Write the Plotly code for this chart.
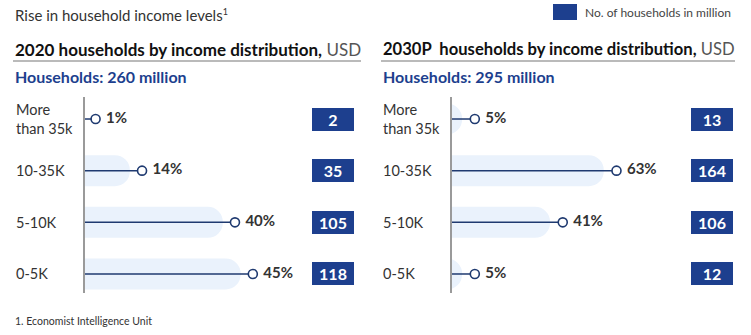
import plotly.graph_objects as go

W, H = 751, 335

categories = ["More<br>than 35k", "10-35K", "5-10K", "0-5K"]
share_2020 = [1, 14, 40, 45]
share_2030 = [5, 63, 41, 5]
households_2020 = [2, 35, 105, 118]
households_2030 = [13, 164, 106, 12]

title_main = "Rise in household income levels<sup><span style='font-size:9px'>1</span></sup>"
title_2020 = "<b>2020 households by income distribution,</b> <span style='color:#555'>USD</span>"
title_2030 = "<b>2030P  households by income distribution,</b> <span style='color:#555'>USD</span>"
sub_2020 = "<b>Households: 260 million</b>"
sub_2030 = "<b>Households: 295 million</b>"
legend_text = "No. of households in million"
footnote = "1. Economist Intelligence Unit"

NAVY = "#1D3F8E"
DARK = "#1F3A70"
BG = "#EAF2FC"
TXT = "#333333"
FONT = "Lato"


def px(x):
    return x / W


def py(y):
    return 1 - y / H


fig = go.Figure()

panels = [
    dict(shares=share_2020, hh=households_2020, xa="x", ya="y",
         xrange=[-1.96, 58.2], gap=3.4, box_x=332.5, lab_x=14),
    dict(shares=share_2030, hh=households_2030, xa="x2", ya="y2",
         xrange=[-4.34, 89.0], gap=5.2, box_x=711.5, lab_x=381),
]

annotations = []
for p in panels:
    s = p["shares"]
    x_min = p["xrange"][0]
    bg_end = [v - p["gap"] for v in s]
    # light background rounded bars (start left of the axis so left corners are clipped)
    fig.add_trace(go.Bar(
        y=categories, x=[max(e - (x_min - 10), 0) if e > x_min else 0 for e in bg_end],
        base=x_min - 10, orientation="h",
        marker=dict(color=BG, cornerradius=15, line=dict(width=0)),
        width=0.6, xaxis=p["xa"], yaxis=p["ya"], showlegend=False, hoverinfo="skip"))
    # stems from the axis to the value
    lx, ly = [], []
    for c, v in zip(categories, s):
        lx += [x_min, v, None]
        ly += [c, c, None]
    fig.add_trace(go.Scatter(x=lx, y=ly, mode="lines", line=dict(color=DARK, width=1.5),
                             xaxis=p["xa"], yaxis=p["ya"], showlegend=False, hoverinfo="skip"))
    # markers + labels
    fig.add_trace(go.Scatter(
        x=s, y=categories, mode="markers+text",
        marker=dict(symbol="circle", size=9, color="white", line=dict(color=DARK, width=1.6)),
        text=[f"\u00a0<b>{v}%</b>" for v in s], textposition="middle right",
        textfont=dict(family=FONT, size=15, color=TXT),
        xaxis=p["xa"], yaxis=p["ya"], showlegend=False, cliponaxis=False, hoverinfo="skip"))
    # boxes with household counts
    for c, n in zip(categories, p["hh"]):
        annotations.append(dict(
            xref="paper", yref=p["ya"], x=px(p["box_x"]), y=c, text=f"<b>{n}</b>",
            showarrow=False, font=dict(family=FONT, size=16, color="white"),
            bgcolor=NAVY, bordercolor=NAVY, borderwidth=1, borderpad=0,
            width=40, height=21, xanchor="center", yanchor="middle"))
    # category labels
    for c in categories:
        annotations.append(dict(
            xref="paper", yref=p["ya"], x=px(p["lab_x"]), y=c, text=c, showarrow=False,
            font=dict(family=FONT, size=14.5, color=TXT), xanchor="left", yanchor="middle",
            align="left"))

# titles
annotations += [
    dict(xref="paper", yref="paper", x=px(13), y=py(15), text=title_main, showarrow=False,
         xanchor="left", yanchor="middle", font=dict(family=FONT, size=15, color=TXT)),
    dict(xref="paper", yref="paper", x=px(13), y=py(49), text=title_2020, showarrow=False,
         xanchor="left", yanchor="middle", font=dict(family=FONT, size=17, color="#111")),
    dict(xref="paper", yref="paper", x=px(381), y=py(49), text=title_2030, showarrow=False,
         xanchor="left", yanchor="middle", font=dict(family=FONT, size=16.6, color="#111")),
    dict(xref="paper", yref="paper", x=px(13), y=py(76), text=sub_2020, showarrow=False,
         xanchor="left", yanchor="middle", font=dict(family=FONT, size=16, color=NAVY)),
    dict(xref="paper", yref="paper", x=px(381), y=py(76), text=sub_2030, showarrow=False,
         xanchor="left", yanchor="middle", font=dict(family=FONT, size=16, color=NAVY)),
    dict(xref="paper", yref="paper", x=px(583), y=py(12), text=legend_text, showarrow=False,
         xanchor="left", yanchor="middle", font=dict(family=FONT, size=12, color="#444")),
    dict(xref="paper", yref="paper", x=px(13), y=py(321), text=footnote, showarrow=False,
         xanchor="left", yanchor="middle", font=dict(family=FONT, size=10.5, color=TXT)),
]

shapes = [
    dict(type="line", xref="paper", yref="paper", x0=px(13), x1=px(361), y0=py(61), y1=py(61),
         line=dict(color="#777", width=1.2)),
    dict(type="line", xref="paper", yref="paper", x0=px(381), x1=px(735), y0=py(61), y1=py(61),
         line=dict(color="#777", width=1.2)),
    dict(type="rect", xref="paper", yref="paper", x0=px(553), x1=px(577), y0=py(20), y1=py(4),
         fillcolor=NAVY, line=dict(width=0)),
]

ydom = [py(293), py(97)]
common_y = dict(domain=ydom, type="category", categoryorder="array", categoryarray=categories,
                range=[3.368, -0.426], showticklabels=False, showgrid=False, zeroline=False,
                showline=True, linecolor="#9a9a9a", linewidth=1.5, ticks="")
common_x = dict(showticklabels=False, showgrid=False, zeroline=False, showline=False, ticks="")

fig.update_layout(
    width=W, height=H, margin=dict(l=0, r=0, t=0, b=0),
    paper_bgcolor="white", plot_bgcolor="white", barmode="overlay",
    xaxis=dict(domain=[px(85), px(300)], range=panels[0]["xrange"], anchor="y", **common_x),
    xaxis2=dict(domain=[px(452), px(680)], range=panels[1]["xrange"], anchor="y2", **common_x),
    yaxis=dict(anchor="x", **common_y),
    yaxis2=dict(anchor="x2", **common_y),
    annotations=annotations, shapes=shapes, showlegend=False,
)

fig.write_html("out.html")
